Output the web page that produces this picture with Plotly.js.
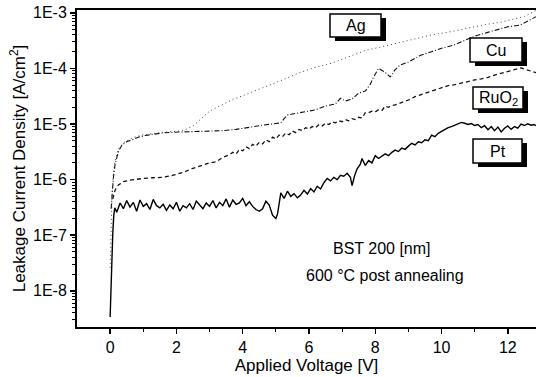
<!DOCTYPE html>
<html>
<head>
<meta charset="utf-8">
<script src="https://cdn.plot.ly/plotly-3.0.1.min.js"></script>
<style>html,body{margin:0;padding:0;background:#fff;}#chart{width:536px;height:377px;}</style>
</head>
<body>
<div id="chart"></div>
<script>
// ---- data ----
const ptV = [0,0.04,0.08,0.11,0.14,0.2,0.3,0.4,0.5,0.6,0.7,0.8,0.9,1.0,1.1,1.2,1.3,1.4,1.5,1.6,1.7,1.8,1.9,2.0,2.1,2.2,2.3,2.4,2.5,2.6,2.7,2.8,2.9,3.0,3.1,3.2,3.3,3.4,3.5,3.6,3.7,3.8,3.9,4.0,4.1,4.2,4.3,4.4,4.5,4.6,4.7,4.8,4.9,5.0,5.05,5.15,5.25,5.35,5.45,5.55,5.65,5.75,5.85,5.95,6.05,6.15,6.25,6.35,6.45,6.55,6.65,6.75,6.85,6.95,7.05,7.15,7.25,7.3,7.38,7.45,7.55,7.6,7.7,7.8,7.9,8.0,8.1,8.2,8.3,8.4,8.5,8.6,8.7,8.8,8.9,9.0,9.1,9.2,9.3,9.4,9.5,9.6,9.7,9.8,9.9,10.0,10.1,10.2,10.3,10.4,10.5,10.6,10.7,10.8,10.9,11.0,11.1,11.2,11.3,11.4,11.5,11.6,11.7,11.8,11.9,12.0,12.1,12.2,12.3,12.4,12.5,12.6,12.7,12.8,12.85];
const ptJ = [3.4e-9,2.5e-8,1.1e-7,2.3e-7,3.1e-7,2.6e-7,3.8e-7,3.0e-7,4.2e-7,3.2e-7,3.9e-7,2.7e-7,4.3e-7,3.3e-7,3.7e-7,2.9e-7,4.4e-7,3.4e-7,3.1e-7,3.6e-7,2.8e-7,3.5e-7,3.0e-7,3.9e-7,2.7e-7,3.4e-7,3.1e-7,3.7e-7,2.9e-7,4.1e-7,3.5e-7,3.0e-7,3.8e-7,3.3e-7,4.2e-7,3.1e-7,3.9e-7,3.4e-7,4.5e-7,3.2e-7,4.3e-7,3.6e-7,3.8e-7,4.6e-7,3.4e-7,4.0e-7,3.3e-7,2.9e-7,2.7e-7,3.0e-7,4.1e-7,3.5e-7,2.3e-7,2.0e-7,2.4e-7,5.8e-7,4.6e-7,6.2e-7,5.0e-7,5.6e-7,4.7e-7,5.3e-7,6.4e-7,5.5e-7,6.9e-7,6.0e-7,7.6e-7,6.8e-7,8.8e-7,1.05e-6,9.5e-7,1.1e-6,1.0e-6,1.2e-6,1.15e-6,1.3e-6,1.1e-6,7.8e-7,1.2e-6,1.55e-6,1.9e-6,2.4e-6,1.8e-6,2.2e-6,2.0e-6,2.7e-6,2.4e-6,2.6e-6,2.9e-6,2.7e-6,3.1e-6,3.4e-6,3.2e-6,3.7e-6,3.5e-6,4.0e-6,4.5e-6,4.2e-6,4.8e-6,4.6e-6,5.2e-6,5.0e-6,6.3e-6,5.9e-6,6.8e-6,7.4e-6,8.0e-6,8.6e-6,9.0e-6,9.6e-6,1.0e-5,1.07e-5,1.03e-5,9.8e-6,1.02e-5,9.4e-6,9.8e-6,8.6e-6,9.3e-6,7.9e-6,9.0e-6,7.6e-6,8.8e-6,7.2e-6,8.4e-6,9.2e-6,8.0e-6,9.0e-6,8.4e-6,1.0e-5,9.4e-6,1.01e-5,9.5e-6,9.8e-6,9.3e-6];

const ruV = [0.08,0.15,0.25,0.4,0.6,0.8,1.0,1.3,1.6,1.9,2.2,2.5,2.8,3.0,3.2,3.4,3.6,3.7,3.8,3.9,4.0,4.1,4.2,4.3,4.4,4.5,4.6,4.7,4.8,4.9,5.0,5.1,5.2,5.3,5.4,5.5,5.6,5.7,5.8,5.9,6.0,6.1,6.2,6.3,6.4,6.5,6.6,6.7,6.8,6.9,7.0,7.1,7.2,7.3,7.4,7.5,7.6,7.7,7.8,7.9,8.0,8.1,8.2,8.3,8.4,8.5,8.6,8.8,9.0,9.2,9.4,9.6,9.8,10.0,10.2,10.4,10.6,10.8,11.0,11.2,11.4,11.6,11.8,12.0,12.2,12.4,12.6,12.85];
const ruJ = [4.5e-7,6.5e-7,8.0e-7,9.2e-7,9.8e-7,1.02e-6,1.05e-6,1.08e-6,1.1e-6,1.2e-6,1.35e-6,1.6e-6,1.85e-6,2.0e-6,2.1e-6,2.5e-6,2.8e-6,3.1e-6,2.9e-6,3.5e-6,3.3e-6,3.9e-6,3.6e-6,4.3e-6,4.0e-6,4.7e-6,4.4e-6,5.2e-6,4.8e-6,5.8e-6,5.4e-6,6.3e-6,5.9e-6,6.9e-6,6.4e-6,7.5e-6,7.0e-6,8.0e-6,7.6e-6,8.6e-6,8.1e-6,9.0e-6,8.6e-6,9.8e-6,9.2e-6,1.04e-5,9.8e-6,1.1e-5,1.05e-5,1.15e-5,1.1e-5,1.2e-5,1.14e-5,1.25e-5,1.2e-5,1.32e-5,1.28e-5,1.6e-5,1.6e-5,1.7e-5,1.65e-5,1.8e-5,1.75e-5,2.1e-5,2.0e-5,2.15e-5,2.2e-5,2.4e-5,2.7e-5,3.1e-5,3.4e-5,3.8e-5,4.2e-5,4.5e-5,4.9e-5,5.1e-5,5.5e-5,5.9e-5,6.2e-5,6.5e-5,6.9e-5,7.6e-5,8.2e-5,8.8e-5,9.6e-5,1.02e-4,9.3e-5,8.4e-5];

const cuV = [0.03,0.06,0.1,0.15,0.25,0.36,0.5,0.66,0.85,1.06,1.3,1.57,1.9,2.2,2.6,3.0,3.4,3.8,4.2,4.6,5.0,5.15,5.25,5.35,5.6,5.9,6.2,6.5,6.8,6.95,7.1,7.3,7.5,7.7,7.85,7.95,8.1,8.3,8.45,8.6,8.75,9.0,9.35,9.7,10.0,10.35,10.7,11.0,11.37,11.7,12.0,12.37,12.6,12.85];
const cuJ = [3.0e-7,5.5e-7,1.1e-6,1.9e-6,3.2e-6,4.2e-6,4.8e-6,5.2e-6,5.8e-6,6.2e-6,6.6e-6,6.9e-6,7.1e-6,7.2e-6,7.2e-6,7.3e-6,7.6e-6,8.0e-6,8.8e-6,9.5e-6,1.02e-5,1.05e-5,1.25e-5,1.45e-5,1.55e-5,1.68e-5,1.8e-5,2.1e-5,2.3e-5,2.9e-5,2.6e-5,2.8e-5,3.6e-5,3.9e-5,5.2e-5,7.0e-5,1.0e-4,8.5e-5,7.0e-5,9.5e-5,1.15e-4,1.3e-4,1.7e-4,2.0e-4,2.3e-4,2.6e-4,3.2e-4,3.8e-4,4.4e-4,5.0e-4,5.6e-4,6.0e-4,7.0e-4,8.5e-4];

const agV = [0.0,0.03,0.06,0.1,0.15,0.25,0.4,0.6,0.8,1.0,1.3,1.6,1.9,2.2,2.5,2.8,3.0,3.3,3.7,4.2,4.7,5.2,5.7,6.2,6.7,7.2,7.7,8.2,8.7,9.2,9.7,10.3,10.8,11.3,11.8,12.2,12.5,12.85];
const agJ = [2.6e-8,2.0e-7,6.0e-7,1.3e-6,2.2e-6,3.6e-6,4.6e-6,5.4e-6,6.0e-6,6.4e-6,6.8e-6,7.1e-6,7.3e-6,7.6e-6,9.2e-6,1.3e-5,1.7e-5,2.1e-5,2.75e-5,3.6e-5,4.7e-5,6.2e-5,8.3e-5,1.05e-4,1.25e-4,1.6e-4,2.1e-4,2.45e-4,2.9e-4,3.4e-4,4.0e-4,4.6e-4,5.3e-4,6.1e-4,6.8e-4,7.7e-4,8.6e-4,1.1e-3];

const xTicks = [0,2,4,6,8,10,12];
const xMinor = [1,3,5,7,9,11];
const yTicks = [1e-8,1e-7,1e-6,1e-5,1e-4,1e-3];
const yTickText = ["1E-8","1E-7","1E-6","1E-5","1E-4","1E-3"];
const seriesNames = ["Ag","Cu","RuO<sub>2</sub>","Pt"];
const note1 = "BST 200 [nm]";
const note2 = "600 °C post annealing";

// minor log ticks 2..9 per decade
const yMinor = [];
for (let e = -9; e <= -4; e++) for (let m = 2; m <= 9; m++) yMinor.push(m * Math.pow(10, e));

// ---- layout helpers (pixel -> paper) ----
const W = 536, H = 377, L = 77, R = 0, T = 10, B = 50;
const pw = W - L - R, ph = H - T - B;
const px = v => (v - L) / pw;
const py = v => (H - B - v) / ph;

const FONT = "Liberation Sans, Arial, Helvetica, sans-serif";

const traces = [
  {x: agV, y: agJ, mode: "lines", line: {color: "#444", width: 1, dash: "1px,3px"}, name: "Ag"},
  {x: cuV, y: cuJ, mode: "lines", line: {color: "#111", width: 1.1, dash: "5px,2px,1px,2px"}, name: "Cu"},
  {x: ruV, y: ruJ, mode: "lines", line: {color: "#111", width: 1.3, dash: "4px,3px"}, name: "RuO2"},
  {x: ptV, y: ptJ, mode: "lines", line: {color: "#000", width: 1.4}, name: "Pt"}
];

const boxes = [
  {t: seriesNames[0], x0: 330, x1: 381, y0: 14, y1: 37},
  {t: seriesNames[1], x0: 470, x1: 522, y0: 38, y1: 62},
  {t: seriesNames[2], x0: 473, x1: 523, y0: 87, y1: 109},
  {t: seriesNames[3], x0: 473, x1: 522, y0: 139, y1: 163}
];
const shapes = [], annotations = [];
boxes.forEach(b => {
  shapes.push({type: "rect", xref: "paper", yref: "paper", layer: "above",
    x0: px(b.x0 + 5), x1: px(b.x1 + 5), y0: py(b.y1 + 4), y1: py(b.y0 + 4),
    fillcolor: "#000", line: {width: 0}});
  shapes.push({type: "rect", xref: "paper", yref: "paper", layer: "above",
    x0: px(b.x0), x1: px(b.x1), y0: py(b.y1), y1: py(b.y0),
    fillcolor: "#fff", line: {color: "#000", width: 1.5}});
  annotations.push({xref: "paper", yref: "paper", x: px((b.x0 + b.x1) / 2), y: py((b.y0 + b.y1) / 2),
    text: b.t, showarrow: false, xanchor: "center", yanchor: "middle",
    font: {family: FONT, size: 16, color: "#000"}});
});
annotations.push({xref: "paper", yref: "paper", x: px(382), y: py(248), text: note1, showarrow: false,
  xanchor: "center", yanchor: "middle", font: {family: FONT, size: 16, color: "#000"}});
annotations.push({xref: "paper", yref: "paper", x: px(385), y: py(275), text: note2, showarrow: false,
  xanchor: "center", yanchor: "middle", font: {family: FONT, size: 16, color: "#000"}});

const layout = {
  width: W, height: H,
  margin: {l: L, r: R, t: T, b: B, pad: 0},
  paper_bgcolor: "#fff", plot_bgcolor: "#fff",
  showlegend: false,
  font: {family: FONT, size: 16, color: "#000"},
  xaxis: {
    range: [-1, 12.85], tickmode: "array", tickvals: xTicks,
    ticks: "outside", ticklen: 5, tickwidth: 1.5, tickcolor: "#000",
    showline: true, linewidth: 2, linecolor: "#000", mirror: true,
    showgrid: false, zeroline: false,
    tickfont: {family: FONT, size: 16},
    minor: {tickmode: "array", tickvals: xMinor, ticks: "outside", ticklen: 3, tickwidth: 1, tickcolor: "#000", showgrid: false},
    title: {text: "Applied Voltage [V]", font: {family: FONT, size: 17}, standoff: 3},
    automargin: false
  },
  yaxis: {
    type: "log", range: [-8.65, -2.95], tickmode: "array", tickvals: yTicks, ticktext: yTickText,
    ticks: "outside", ticklen: 5, tickwidth: 1.5, tickcolor: "#000",
    showline: true, linewidth: 2, linecolor: "#000", mirror: false,
    showgrid: false, zeroline: false,
    tickfont: {family: FONT, size: 16},
    minor: {tickmode: "array", tickvals: yMinor, ticks: "outside", ticklen: 3, tickwidth: 1, tickcolor: "#000", showgrid: false},
    title: {text: "Leakage Current Density [A/cm<sup>2</sup>]", font: {family: FONT, size: 17}, standoff: 3},
    automargin: false
  },
  shapes: shapes,
  annotations: annotations
};

Plotly.newPlot("chart", traces, layout, {staticPlot: true, displayModeBar: false});
</script>
</body>
</html>
